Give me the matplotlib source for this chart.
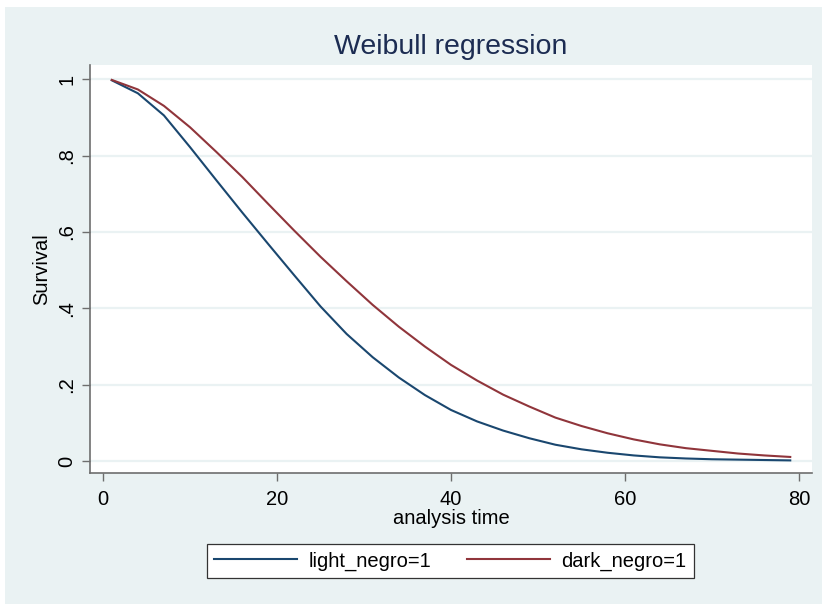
import matplotlib.pyplot as plt
from matplotlib.patches import Rectangle

# survival curves (Stata streg, weibull)
time = [1, 4, 7, 10, 13, 16, 19, 22, 25, 28, 31, 34, 37, 40, 43, 46, 49, 52,
        55, 58, 61, 64, 67, 70, 73, 76, 79]
light_surv = [0.997, 0.963, 0.905, 0.822, 0.736, 0.651, 0.568, 0.486, 0.405,
              0.333, 0.272, 0.219, 0.173, 0.134, 0.104, 0.080, 0.060, 0.043,
              0.031, 0.022, 0.015, 0.010, 0.007, 0.005, 0.004, 0.003, 0.002]
dark_surv = [0.998, 0.973, 0.930, 0.874, 0.810, 0.744, 0.673, 0.603, 0.535,
             0.471, 0.409, 0.352, 0.300, 0.252, 0.211, 0.174, 0.143, 0.114,
             0.092, 0.073, 0.057, 0.044, 0.034, 0.027, 0.020, 0.015, 0.011]
series_labels = ["light_negro=1", "dark_negro=1"]

xticks = [0, 20, 40, 60, 80]
yticks = [0, 0.2, 0.4, 0.6, 0.8, 1.0]
ytick_labels = ["0", ".2", ".4", ".6", ".8", "1"]

BG = "#eaf2f3"
BLUE = "#1a476f"
RED = "#90353b"
AXC = "#6e6e6e"

plt.rcParams["font.family"] = ["Liberation Sans", "DejaVu Sans"]

fig = plt.figure(figsize=(8.22, 6.04), dpi=100, facecolor="white")
fig.patches.append(Rectangle((5 / 822, 0), 1, 1 - 7 / 604, transform=fig.transFigure,
                             facecolor=BG, edgecolor="none", zorder=-10))

ax = fig.add_axes([90 / 822, 1 - 473 / 604, (812 - 90) / 822, (473 - 65) / 604])
ax.set_facecolor("white")

ax.plot(time, light_surv, color=BLUE, lw=1.5, label=series_labels[0])
ax.plot(time, dark_surv, color=RED, lw=1.5, label=series_labels[1])

ax.set_xlim(-1.5, 81.5)
ax.set_ylim(-0.031, 1.037)
ax.set_xticks(xticks)
ax.set_yticks(yticks)
ax.set_yticklabels(ytick_labels)
ax.grid(axis="y", color=BG, lw=1.6)
ax.set_axisbelow(True)

for side in ["top", "right"]:
    ax.spines[side].set_visible(False)
for side in ["left", "bottom"]:
    ax.spines[side].set_color(AXC)
    ax.spines[side].set_linewidth(1.2)

ax.tick_params(axis="both", colors=AXC, labelcolor="black", length=6, width=1,
               labelsize=14.5)
ax.tick_params(axis="x", pad=6)
ax.tick_params(axis="y", labelrotation=90, pad=4)
plt.setp(ax.get_yticklabels(), va="center")

ax.set_xlabel("analysis time", fontsize=14.5, labelpad=0)
ax.set_ylabel("Survival", fontsize=14.5, labelpad=4)
fig.text(451 / 822, 1 - 47 / 604, "Weibull regression", fontsize=20.5,
         color="#1c2c52", ha="center", va="center")

leg = fig.legend(loc="center", bbox_to_anchor=(450.5 / 822, 1 - 561 / 604), ncol=2,
                 fontsize=14.5, frameon=True, fancybox=False, framealpha=1,
                 handlelength=4.1, handletextpad=0.6, columnspacing=1.75,
                 borderpad=0.35)
leg.get_frame().set_facecolor("white")
leg.get_frame().set_edgecolor("#333333")
leg.get_frame().set_linewidth(0.9)

fig.savefig("out.png", dpi=100, facecolor="white")
